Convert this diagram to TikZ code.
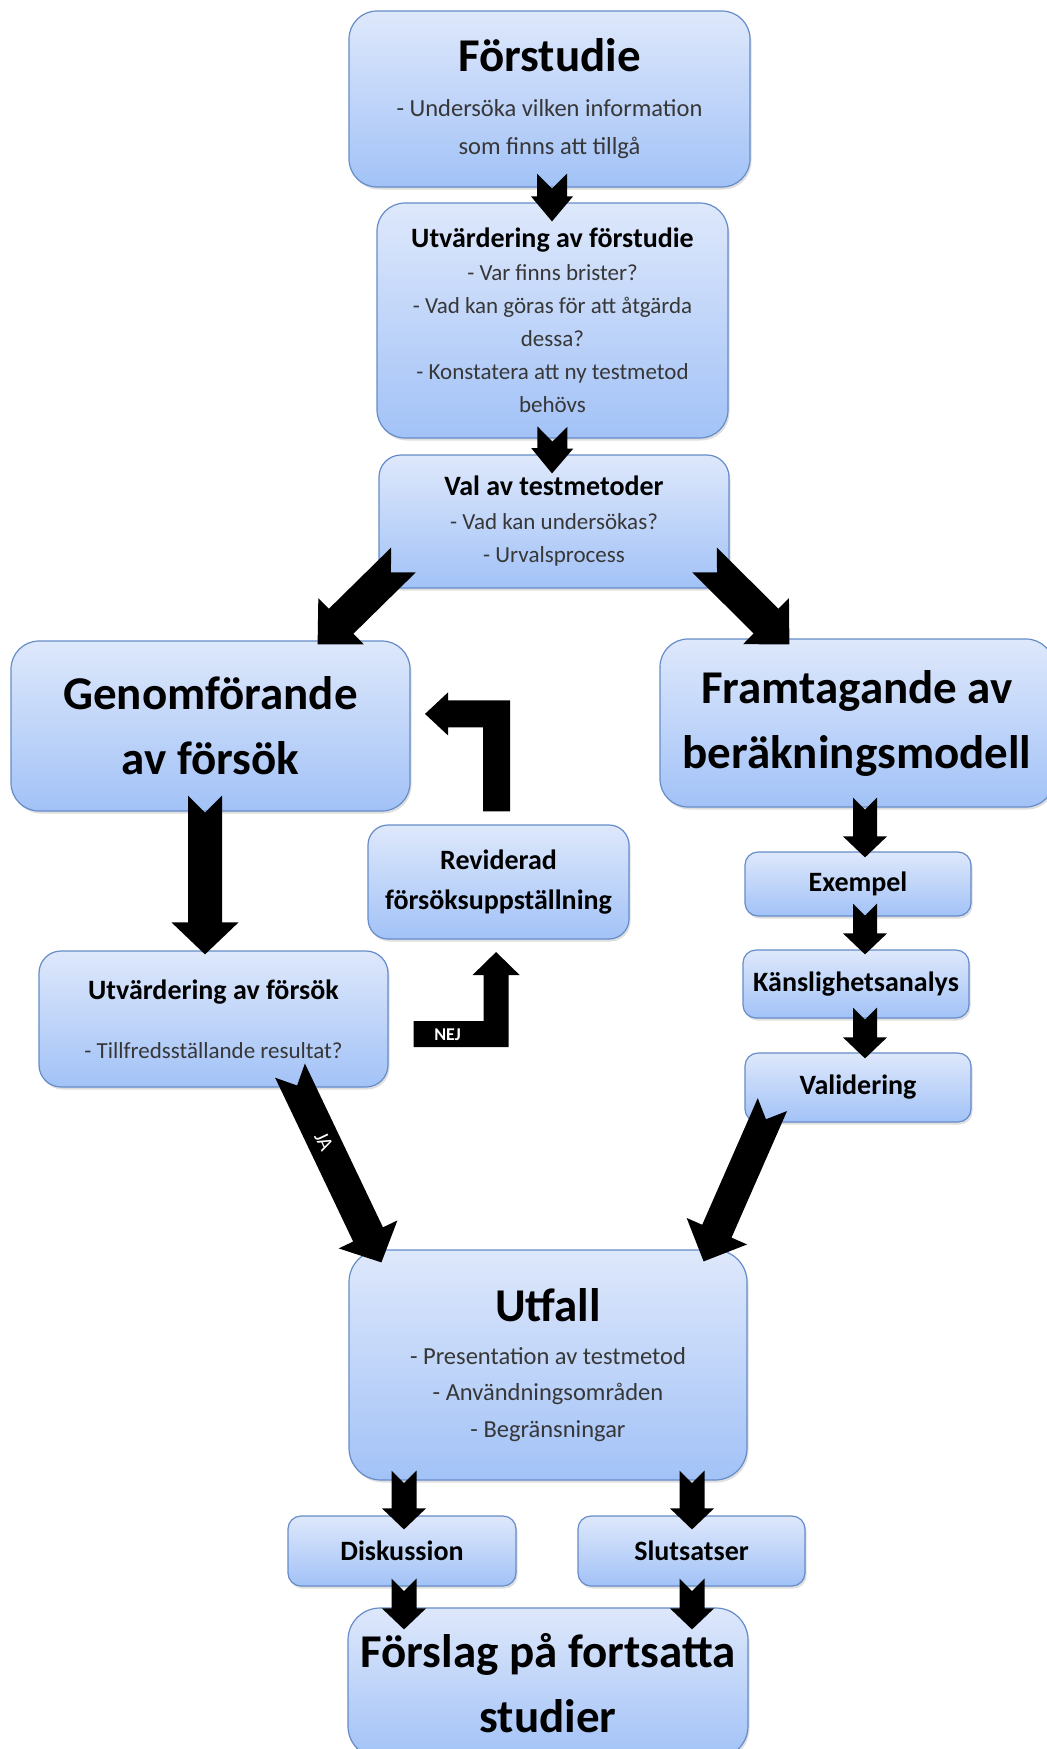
\documentclass[tikz,border=0pt]{standalone}
\usepackage{fontspec}
\setmainfont{Carlito}
\usetikzlibrary{calc,shadows}

\definecolor{boxtop}{RGB}{222,232,251}
\definecolor{boxbot}{RGB}{162,194,247}
\definecolor{boxline}{RGB}{101,140,200}
\definecolor{subgray}{RGB}{55,55,55}

\newcommand{\fbig}{\fontsize{47}{65}\selectfont\bfseries\color{black}}
\newcommand{\fmed}{\fontsize{28}{40}\selectfont\bfseries\color{black}}

% notched block arrow: tail, tip, half shaft, half head, head length
\newcommand{\blockarrow}[5]{%
  \coordinate (bah) at ($(#2)!#5!(#1)$);
  \fill ($(#1)!#3!90:(#2)$) -- ($(#1)!#3!(#2)$) -- ($(#1)!#3!-90:(#2)$)
    -- ($(bah)!#3!-90:(#2)$) -- ($(bah)!#4!-90:(#2)$) -- (#2)
    -- ($(bah)!#4!90:(#2)$) -- ($(bah)!#3!90:(#2)$) -- cycle;}

\begin{document}
\begin{tikzpicture}[
    x=1pt, y=-1pt,
    box/.style={draw=boxline, line width=1.2pt, rounded corners=28pt,
      top color=boxtop, bottom color=boxbot, align=center, inner sep=0pt,
      text=subgray, drop shadow={shadow xshift=1.5pt, shadow yshift=-2.5pt, opacity=.25}},
    titlebox/.style={box, text=black},
    smallbox/.style={titlebox, rounded corners=13pt, font=\fmed},
    subtext/.style 2 args={font=\fontsize{#1}{#2}\selectfont}
    ]
    \useasboundingbox (0,0) rectangle (1047,1749);

    \node[box, minimum width=401pt, minimum height=176pt, subtext={24.5}{38}] (pre) at (549.5,99)
      {\fbig Förstudie\\[7pt]- Undersöka vilken information\\som finns att tillgå};
    \node[box, minimum width=351pt, minimum height=235pt, subtext={23}{33}] (evalpre) at (552.5,320.5)
      {\fmed Utvärdering av förstudie\\- Var finns brister?\\- Vad kan göras för att åtgärda\\dessa?\\- Konstatera att ny testmetod\\behövs};
    \node[box, rounded corners=22pt, minimum width=350pt, minimum height=133pt, subtext={23}{33.5}] (val) at (554,521.5)
      {\fmed Val av testmetoder\\- Vad kan undersökas?\\- Urvalsprocess};
    \node[titlebox, minimum width=399pt, minimum height=170pt, font=\fbig] (genom) at (210.5,726)
      {Genomförande\\av försök};
    \node[titlebox, minimum width=394pt, minimum height=168pt, font=\fbig] (fram) at (857,723)
      {Framtagande av\\beräkningsmodell};
    \node[titlebox, rounded corners=20pt, minimum width=261pt, minimum height=114pt, font=\fmed] (rev) at (498.5,882)
      {Reviderad\\försöksuppställning};
    \node[box, rounded corners=22pt, minimum width=349pt, minimum height=136pt, subtext={23}{30}] (evalfors) at (213.5,1019)
      {\fmed Utvärdering av försök\\[29pt]- Tillfredsställande resultat?};
    \node[smallbox, minimum width=226pt, minimum height=64pt] (ex) at (858,884) {Exempel};
    \node[smallbox, minimum width=226pt, minimum height=68pt] (kansl) at (856,984) {Känslighetsanalys};
    \node[smallbox, minimum width=226pt, minimum height=69pt] (valid) at (858,1087.5) {Validering};
    \node[box, rounded corners=32pt, minimum width=398pt, minimum height=230pt, subtext={24.5}{36.5}] (utfall) at (548,1365)
      {\fbig Utfall\\[6.5pt]- Presentation av testmetod\\- Användningsområden\\- Begränsningar};
    \node[smallbox, minimum width=228pt, minimum height=70pt] (disk) at (402,1551) {Diskussion};
    \node[smallbox, minimum width=227pt, minimum height=70pt] (slut) at (691.5,1551) {Slutsatser};
    \node[titlebox, rounded corners=32pt, minimum width=400pt, minimum height=150pt, font=\fbig] (forslag) at (548,1683)
      {Förslag på fortsatta\\studier};

    \coordinate (a1t) at ($(pre.south)+(2.5,-14)$);
    \coordinate (a1h) at ($(evalpre.north)+(-0.5,19)$);
    \coordinate (a2t) at ($(evalpre.south)+(0,-12)$);
    \coordinate (a2h) at ($(val.north)+(-2,19)$);
    \coordinate (a3t) at ($(val.west)+(25,38.5)$);
    \coordinate (a3h) at ($(genom.north east)+(-93,4)$);
    \coordinate (a4t) at ($(val.east)+(-25,38.5)$);
    \coordinate (a4h) at ($(fram.north west)+(130,6)$);
    \coordinate (a5t) at ($(genom.south)+(-5.5,-16)$);
    \coordinate (a5h) at ($(evalfors.north)+(-8.5,4)$);
    \coordinate (a6t) at ($(fram.south)+(8,-10)$);
    \coordinate (a6h) at ($(ex.north)+(7,6)$);
    \coordinate (a7t) at ($(ex.south)+(7,-13)$);
    \coordinate (a7h) at ($(kansl.north)+(9,5)$);
    \coordinate (a8t) at ($(kansl.south)+(9,-11)$);
    \coordinate (a8h) at ($(valid.north)+(7,6)$);
    \coordinate (a9t) at ($(valid.south west)+(28,-18)$);
    \coordinate (a9h) at ($(utfall.north east)+(-44,12)$);
    \coordinate (jat) at ($(evalfors.south)+(76.5,-17)$);
    \coordinate (jah) at ($(utfall.north west)+(33,13)$);
    \coordinate (b1t) at ($(utfall.south)+(-144,-10)$);
    \coordinate (b1h) at ($(disk.north)+(2,14)$);
    \coordinate (b2t) at ($(utfall.south)+(144,-10)$);
    \coordinate (b2h) at ($(slut.north)+(0.5,14)$);
    \coordinate (b3t) at ($(disk.south)+(2,-8)$);
    \coordinate (b3h) at ($(forslag.north)+(-144,22)$);
    \coordinate (b4t) at ($(slut.south)+(0.5,-8)$);
    \coordinate (b4h) at ($(forslag.north)+(144,22)$);

    \blockarrow{a1t}{a1h}{15pt}{21pt}{25pt}
    \blockarrow{a2t}{a2h}{15pt}{21pt}{25pt}
    \blockarrow{a3t}{a3h}{17.5pt}{32.5pt}{33pt}
    \blockarrow{a4t}{a4h}{17.5pt}{32.5pt}{33pt}
    \blockarrow{a5t}{a5h}{17pt}{33.5pt}{32pt}
    \blockarrow{a6t}{a6h}{12pt}{22pt}{21pt}
    \blockarrow{a7t}{a7h}{12pt}{22pt}{21pt}
    \blockarrow{a8t}{a8h}{12pt}{22pt}{21pt}
    \blockarrow{a9t}{a9h}{16pt}{33pt}{33pt}
    \blockarrow{jat}{jah}{16.5pt}{32.5pt}{31pt}
    \blockarrow{b1t}{b1h}{12.5pt}{22pt}{21pt}
    \blockarrow{b2t}{b2h}{12.5pt}{22pt}{21pt}
    \blockarrow{b3t}{b3h}{12.5pt}{22pt}{21pt}
    \blockarrow{b4t}{b4h}{12.5pt}{22pt}{21pt}

    \node[white, rotate=-64.5, font=\fontsize{21}{21}\selectfont] (ja) at ($(jat)!.37!(jah)$) {JA};

    \fill ($(rev.north)+(-15.5,-13)$) -- ++(0,-84) -- ++(-35,0) -- ++(0,8) -- ++(-23,-21.5)
      -- ++(23,-21.5) -- ++(0,8) -- ++(62,0) -- ++(0,111) -- cycle;
    \fill ($(evalfors.east)+(25,2)$) -- ++(70,0) -- ++(0,-46) -- ++(-11,0) -- ++(23.5,-23)
      -- ++(23.5,23) -- ++(-11,0) -- ++(0,72) -- ++(-95,0) -- cycle;
    \node[white, font=\fontsize{18}{18}\selectfont\bfseries] (nej) at ($(evalfors.east)+(59,16)$) {NEJ};
  \end{tikzpicture}
\end{document}
